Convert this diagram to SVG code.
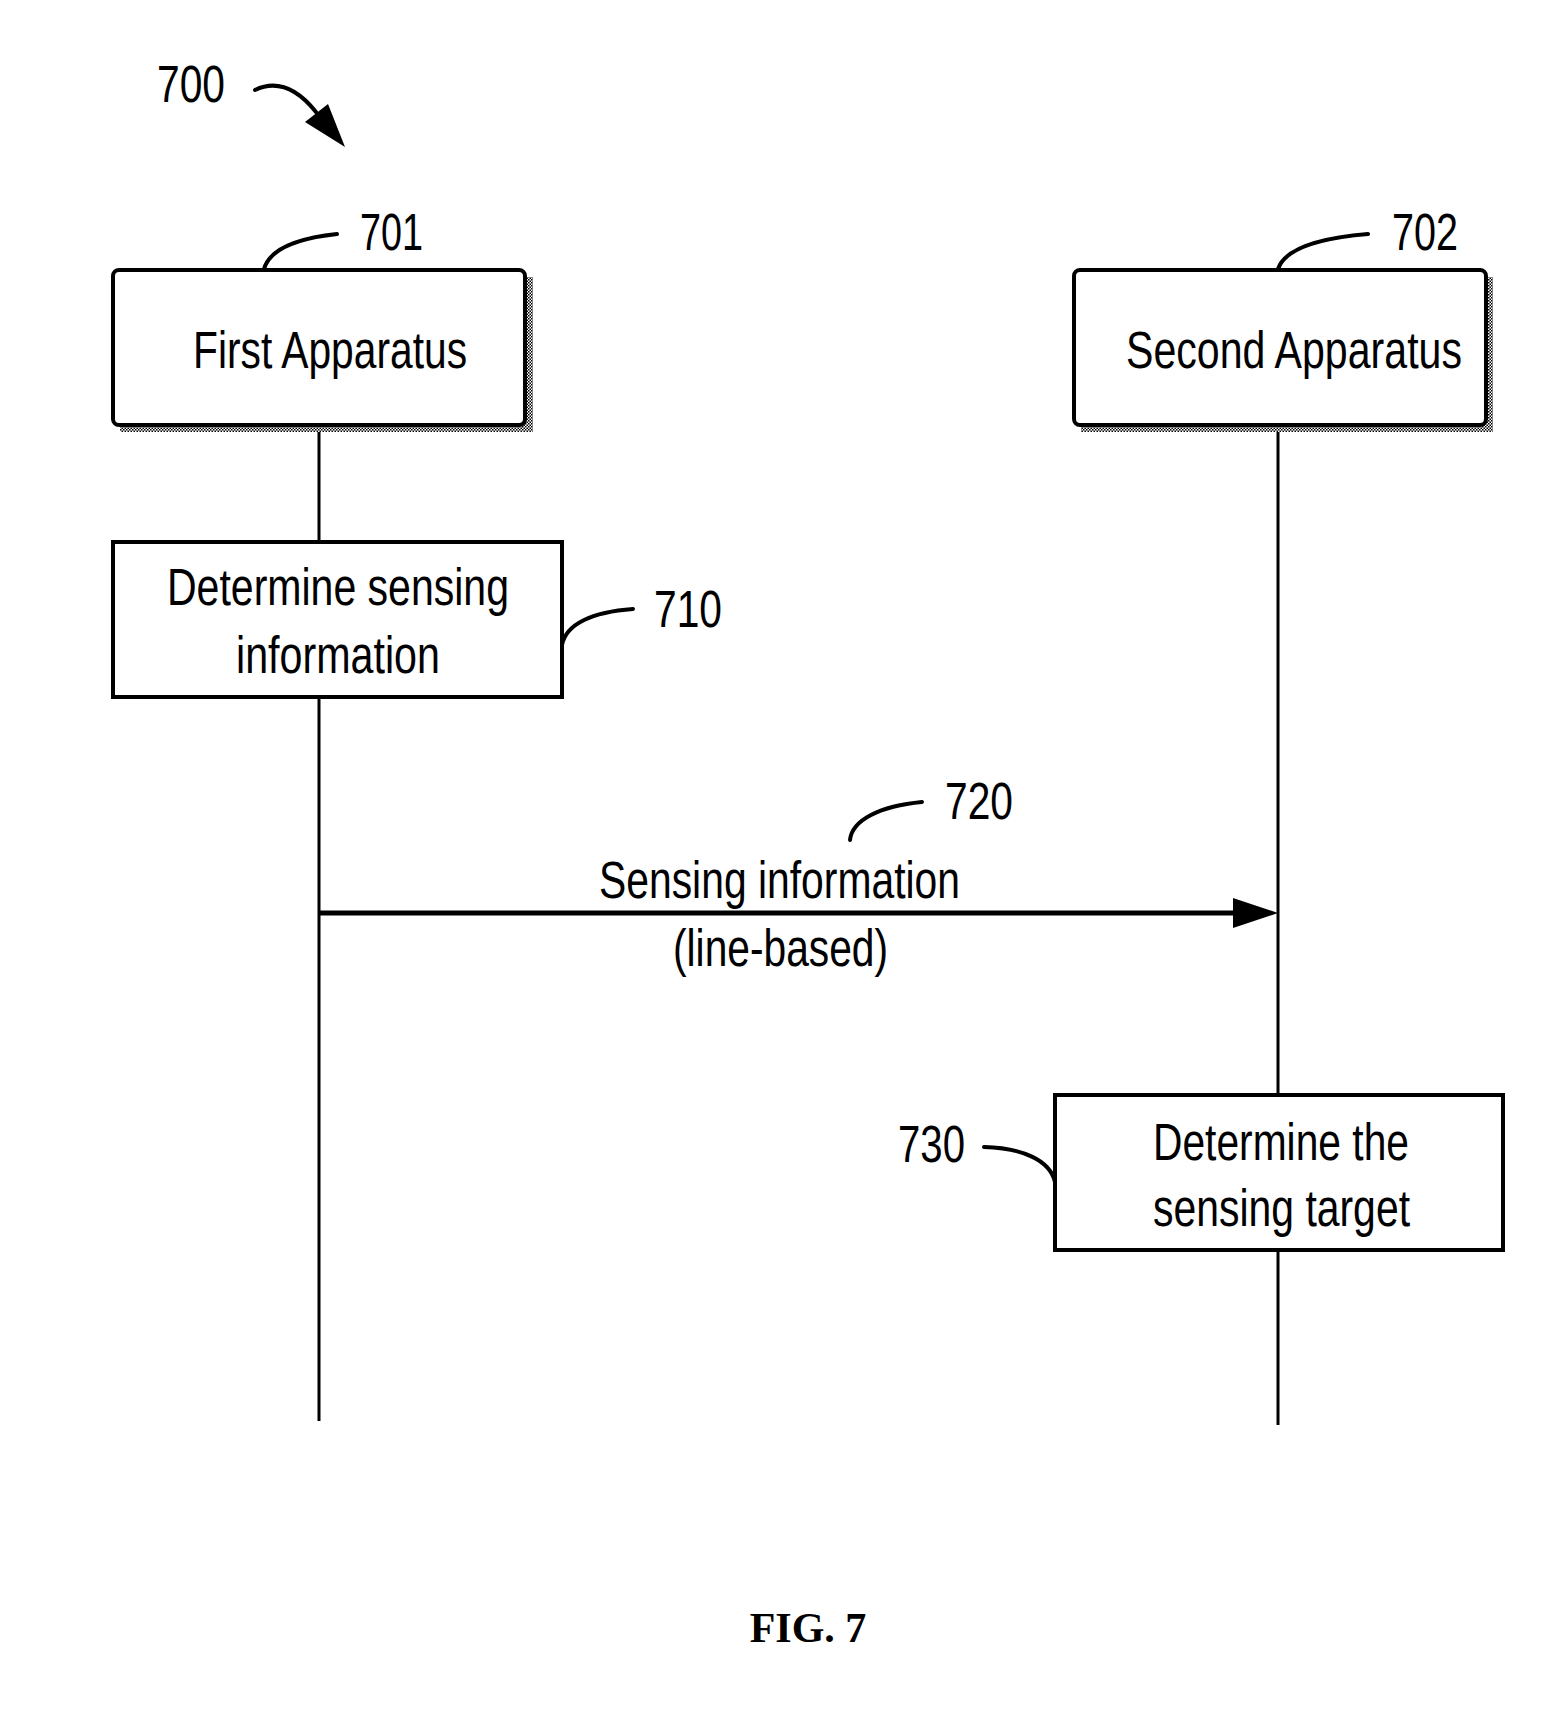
<svg xmlns="http://www.w3.org/2000/svg" width="1561" height="1724" viewBox="0 0 1561 1724">
<style>
.lbl{font-family:"Liberation Sans",Arial,sans-serif;font-size:51px;fill:#000}
.box{fill:#fff;stroke:#000;stroke-width:4}
.life{stroke:#000;stroke-width:3;fill:none}
.call{stroke:#000;stroke-width:4;fill:none;stroke-linecap:round}
</style>
<defs>
<pattern id="dith" width="3" height="3" patternUnits="userSpaceOnUse">
<rect width="3" height="3" fill="#fff"/>
<rect width="1.5" height="1.5" fill="#000"/>
<rect x="1.5" y="1.5" width="1.5" height="1.5" fill="#000"/>
</pattern>
</defs>
<rect width="1561" height="1724" fill="#fff"/>
<g id="fig-ref">
<text class="lbl" x="157" y="102" textLength="68" lengthAdjust="spacingAndGlyphs">700</text>
<path class="call" d="M255,90 C280,78 300,92 316,112"/>
<polygon points="345,147 305,122 328,104" fill="#000"/>
</g>
<g id="connectors">
<line class="life" x1="319" y1="425" x2="319" y2="1421"/>
<line class="life" x1="1278" y1="425" x2="1278" y2="1425"/>
<line x1="319" y1="913" x2="1236" y2="913" stroke="#000" stroke-width="5"/>
<polygon points="1278,913 1233,898 1233,928" fill="#000"/>
<path class="call" d="M264,269 C270,248 300,238 337,234"/>
<path class="call" d="M1278,269 C1285,248 1320,238 1368,234"/>
<path class="call" d="M562,645 C566,624 592,612 633,609"/>
<path class="call" d="M850,840 C852,820 880,806 922,802"/>
<path class="call" d="M984,1147 C1022,1148 1050,1160 1055,1182"/>
</g>
<g id="node-701">
<rect x="120" y="277" width="413" height="155" fill="url(#dith)"/>
<rect class="box" x="113" y="270" width="412" height="155" rx="6"/>
<text class="lbl" x="193" y="368" textLength="274" lengthAdjust="spacingAndGlyphs">First Apparatus</text>
<text class="lbl" x="360" y="250" textLength="63" lengthAdjust="spacingAndGlyphs">701</text>
</g>
<g id="node-702">
<rect x="1081" y="277" width="412" height="155" fill="url(#dith)"/>
<rect class="box" x="1074" y="270" width="412" height="155" rx="6"/>
<text class="lbl" x="1126" y="368" textLength="336" lengthAdjust="spacingAndGlyphs">Second Apparatus</text>
<text class="lbl" x="1392" y="250" textLength="66" lengthAdjust="spacingAndGlyphs">702</text>
</g>
<g id="node-710">
<rect class="box" x="113" y="542" width="449" height="155"/>
<text class="lbl" x="167" y="605" textLength="342" lengthAdjust="spacingAndGlyphs">Determine sensing</text>
<text class="lbl" x="236" y="673" textLength="204" lengthAdjust="spacingAndGlyphs">information</text>
<text class="lbl" x="654" y="627" textLength="68" lengthAdjust="spacingAndGlyphs">710</text>
</g>
<g id="msg-720">
<text class="lbl" x="599" y="898" textLength="361" lengthAdjust="spacingAndGlyphs">Sensing information</text>
<text class="lbl" x="673" y="966" textLength="215" lengthAdjust="spacingAndGlyphs">(line-based)</text>
<text class="lbl" x="945" y="819" textLength="68" lengthAdjust="spacingAndGlyphs">720</text>
</g>
<g id="node-730">
<rect class="box" x="1055" y="1095" width="448" height="155"/>
<text class="lbl" x="1153" y="1160" textLength="256" lengthAdjust="spacingAndGlyphs">Determine the</text>
<text class="lbl" x="1153" y="1226" textLength="257" lengthAdjust="spacingAndGlyphs">sensing target</text>
<text class="lbl" x="898" y="1162" textLength="67" lengthAdjust="spacingAndGlyphs">730</text>
</g>
<g id="caption">
<text x="808" y="1642" text-anchor="middle" font-family="'Liberation Serif','Times New Roman',serif" font-weight="bold" font-size="42">FIG. 7</text>
</g>
</svg>
